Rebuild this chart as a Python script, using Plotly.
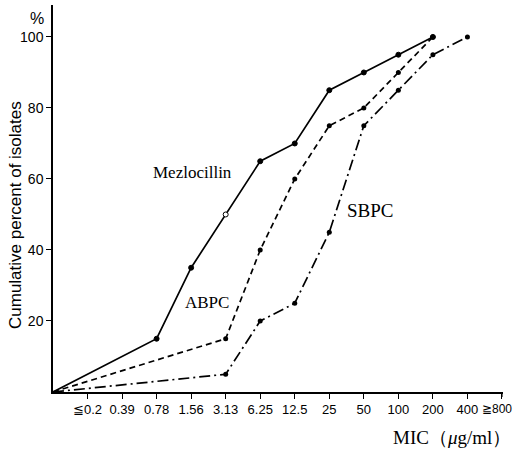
import plotly.graph_objects as go

tick_labels = ["≦0.2", "0.39", "0.78", "1.56", "3.13", "6.25", "12.5", "25", "50", "100", "200", "400", "≧800"]
tick_pos = list(range(1, 14))

mez_x = [0, 3, 4, 5, 6, 7, 8, 9, 10, 11]
mez_y = [0, 15, 35, 50, 65, 70, 85, 90, 95, 100]

abpc_x = [0, 5, 6, 7, 8, 9, 10, 11]
abpc_y = [0, 15, 40, 60, 75, 80, 90, 100]

sbpc_x = [0, 5, 6, 7, 8, 9, 10, 11, 12]
sbpc_y = [0, 5, 20, 25, 45, 75, 85, 95, 100]

fig = go.Figure()

def marker_colors(xs, open_idx=None):
    return ["white" if (open_idx is not None and i == open_idx) else "black" for i in range(len(xs))]

fig.add_trace(go.Scatter(
    x=mez_x, y=mez_y, mode="lines",
    line=dict(color="black", width=1.7), showlegend=False))

fig.add_trace(go.Scatter(
    x=abpc_x, y=abpc_y, mode="lines",
    line=dict(color="black", width=1.7, dash="6px,4px"), showlegend=False))
fig.add_trace(go.Scatter(
    x=abpc_x[1:], y=abpc_y[1:], mode="markers",
    marker=dict(size=5, color="black"), showlegend=False))

fig.add_trace(go.Scatter(
    x=sbpc_x, y=sbpc_y, mode="lines",
    line=dict(color="black", width=1.7, dash="11px,4px,2px,4px"), showlegend=False))
fig.add_trace(go.Scatter(
    x=sbpc_x[1:], y=sbpc_y[1:], mode="markers",
    marker=dict(size=5, color="black"), showlegend=False))

fig.add_trace(go.Scatter(
    x=mez_x[1:], y=mez_y[1:], mode="markers",
    marker=dict(size=5, color=marker_colors(mez_x[1:], 2), line=dict(color="black", width=1)),
    showlegend=False, hoverinfo="skip"))

tick_font = dict(family="Liberation Sans, Arial, sans-serif", size=13, color="black")
ytick_font = dict(family="Liberation Sans, Arial, sans-serif", size=14, color="black")
title_font = dict(family="Liberation Sans, Arial, sans-serif", size=17, color="black")

W, H = 514, 454
l, r, t, b = 53, 11, 5, 62
pw, ph = W - l - r, H - t - b
XMAX = 13.03

fig.update_layout(
    width=W, height=H,
    margin=dict(l=l, r=r, t=t, b=b),
    paper_bgcolor="white", plot_bgcolor="white",
    xaxis=dict(range=[0, XMAX], tickmode="array", tickvals=tick_pos,
               ticktext=tick_labels[:-1] + [""], automargin=False,
               showline=True, linecolor="black", linewidth=1.5, ticks="outside", ticklen=5,
               tickcolor="black", tickwidth=1.2, showgrid=False, zeroline=False,
               tickfont=tick_font),
    yaxis=dict(range=[0, 109], tickmode="array", tickvals=[20, 40, 60, 80, 100],
               ticktext=["20", "40", "60", "80", "100"], automargin=False,
               showline=True, linecolor="black", linewidth=1.5, ticks="outside", ticklen=5,
               tickcolor="black", tickwidth=1.2, showgrid=False, zeroline=False,
               tickfont=ytick_font),
)

# last tick mark at the axis end
xe = tick_pos[-1] / XMAX
fig.add_shape(type="line", xref="paper", yref="paper", x0=xe, x1=xe,
              y0=0, y1=-5 / ph, line=dict(color="black", width=1.2))

def px2paper(px, py):
    return (px - l) / pw, 1 - (py - t) / ph

items = [
    (192, 172, "Mezlocillin", 17, "center"),
    (207, 302, "ABPC", 17, "center"),
    (370, 210, "SBPC", 19, "center"),
    (513, 437, "MIC（<i>μ</i>g/ml）", 19, "right"),
]
anns = []
for px, py, txt, sz, xa in items:
    x, y = px2paper(px, py)
    anns.append(dict(x=x, y=y, xref="paper", yref="paper", text=txt, showarrow=False,
                     xanchor=xa, yanchor="middle",
                     font=dict(family="Liberation Serif, DejaVu Serif, serif", size=sz, color="black")))
x, y = px2paper(37, 18)
anns.append(dict(x=x, y=y, xref="paper", yref="paper", text="%", showarrow=False,
                 xanchor="center", yanchor="middle", font=dict(tick_font, size=16)))
x, y = px2paper(514, 409)
anns.append(dict(x=x, y=y, xref="paper", yref="paper", text=tick_labels[-1], showarrow=False,
                 xanchor="right", yanchor="middle", font=dict(tick_font, size=12)))
x, y = px2paper(15, 215)
anns.append(dict(x=x, y=y, xref="paper", yref="paper", text="Cumulative percent of isolates",
                 showarrow=False, textangle=-90, xanchor="center", yanchor="middle",
                 font=title_font))
fig.update_layout(annotations=anns)

fig.write_html("out.html")
